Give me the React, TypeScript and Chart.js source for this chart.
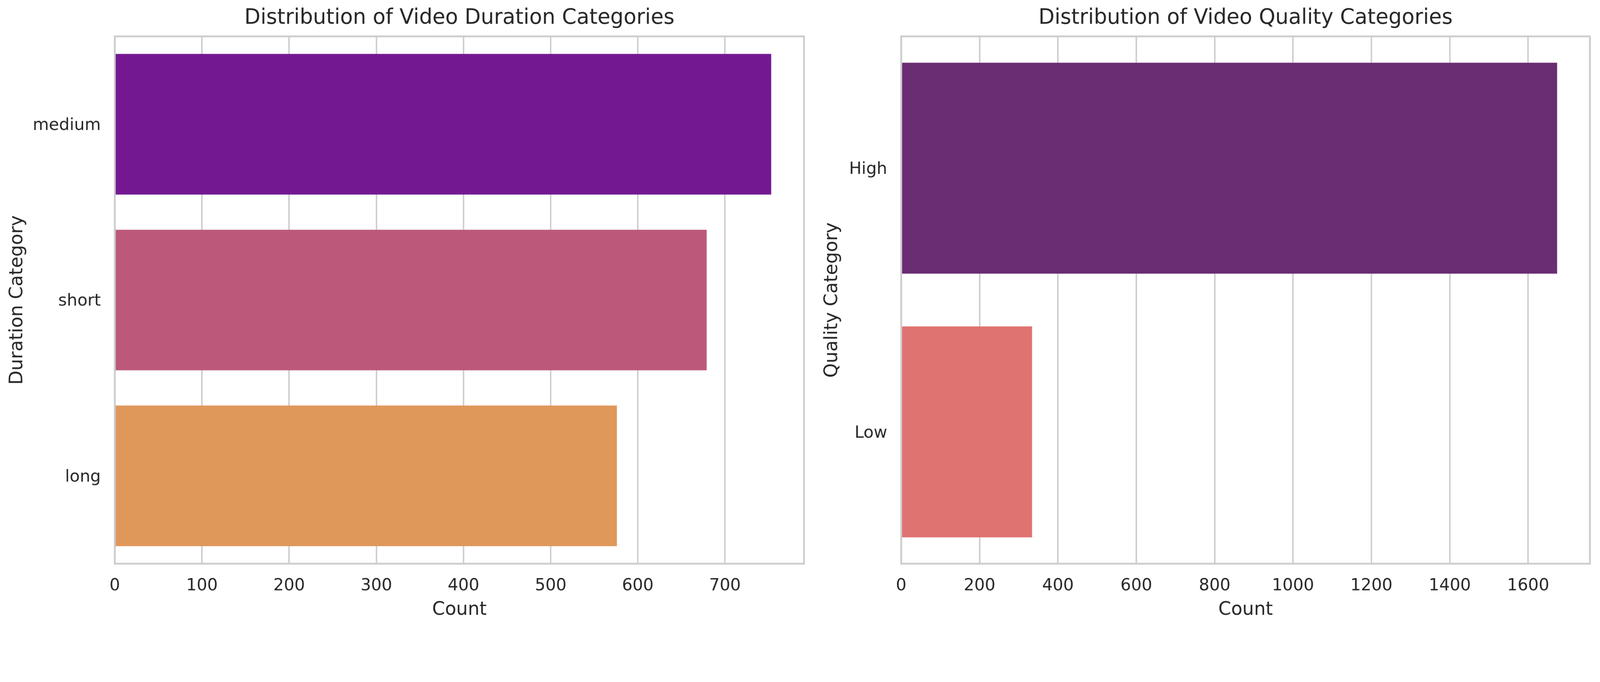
import React, { useEffect, useRef } from "react";
import { Chart, registerables } from "chart.js";

Chart.register(...registerables);

const durationCategories = ["medium", "short", "long"];
const durationCounts = [753, 679, 576];
const durationColors = ["rgb(116,24,145)", "rgb(188,89,122)", "rgb(224,151,90)"];
const durationTicks = [0, 100, 200, 300, 400, 500, 600, 700];

const qualityCategories = ["High", "Low"];
const qualityCounts = [1674, 334];
const qualityColors = ["rgb(106,44,115)", "rgb(223,115,114)"];
const qualityTicks = [0, 200, 400, 600, 800, 1000, 1200, 1400, 1600];

const FONT = "'DejaVu Sans', 'Liberation Sans', sans-serif";
const TEXT = "#262626";
const GRID = "#cccccc";
const W = 4445;
const H = 1746;

const framePlugin = {
  id: "frame",
  afterDatasetsDraw(chart: any) {
    const { ctx, chartArea } = chart;
    ctx.save();
    ctx.strokeStyle = GRID;
    ctx.lineWidth = 5;
    ctx.strokeRect(
      chartArea.left,
      chartArea.top,
      chartArea.right - chartArea.left,
      chartArea.bottom - chartArea.top
    );
    ctx.restore();
  },
};

type PanelProps = {
  left: number;
  width: number;
  scale: number;
  title: string;
  yTitle: string;
  categories: string[];
  counts: number[];
  colors: string[];
  tickValues: number[];
  yAxisWidth: number;
  rightPad: number;
  yTitlePad: number;
};

function Panel(p: PanelProps) {
  const ref = useRef<HTMLCanvasElement | null>(null);
  useEffect(() => {
    if (!ref.current) return;
    const max = Math.max(...p.counts) * 1.05;
    const chart = new Chart(ref.current, {
      type: "bar",
      data: {
        labels: p.categories,
        datasets: [
          {
            data: p.counts,
            backgroundColor: p.colors,
            borderWidth: 0,
            categoryPercentage: 0.8,
            barPercentage: 1.0,
          },
        ],
      },
      plugins: [framePlugin],
      options: {
        indexAxis: "y",
        animation: false,
        responsive: false,
        devicePixelRatio: 1,
        layout: { padding: { left: 0, right: p.rightPad, top: 0, bottom: 0 } },
        plugins: {
          legend: { display: false },
          tooltip: { enabled: false },
          title: {
            display: true,
            text: p.title,
            fullSize: false,
            color: TEXT,
            font: { family: FONT, size: 58, weight: "normal" },
            padding: { top: 16, bottom: 15.4 },
          },
        },
        scales: {
          x: {
            type: "linear",
            min: 0,
            max: max,
            afterBuildTicks: (scale: any) => {
              scale.ticks = p.tickValues.map((v) => ({ value: v }));
            },
            afterFit: (scale: any) => {
              scale.height = 180;
            },
            ticks: {
              color: TEXT,
              padding: 34,
              maxRotation: 0,
              autoSkip: false,
              font: { family: FONT, size: 46 },
              callback: (v: any) => String(v),
            },
            grid: { color: GRID, lineWidth: 4, drawTicks: false },
            border: { display: false },
            title: {
              display: true,
              text: "Count",
              color: TEXT,
              font: { family: FONT, size: 51 },
              padding: { top: 0, bottom: 21 },
            },
          },
          y: {
            type: "category",
            afterFit: (scale: any) => {
              scale.width = p.yAxisWidth;
            },
            ticks: {
              color: TEXT,
              padding: 39,
              labelOffset: 4,
              font: { family: FONT, size: 46 },
            },
            grid: { display: false, drawTicks: false },
            border: { display: false },
            title: {
              display: true,
              text: p.yTitle,
              color: TEXT,
              font: { family: FONT, size: 51 },
              padding: { top: p.yTitlePad, bottom: 0 },
            },
          },
        },
      } as any,
    });
    return () => chart.destroy();
  }, []);
  return (
    <canvas
      ref={ref}
      width={p.width}
      height={H}
      style={{
        position: "absolute",
        left: p.left * p.scale,
        top: 0,
        width: p.width * p.scale,
        height: H * p.scale,
      }}
    />
  );
}

export default function App() {
  const s =
    typeof window !== "undefined"
      ? Math.min(window.innerWidth / W, window.innerHeight / H)
      : 1;
  return (
    <div
      style={{
        position: "absolute",
        left: 0,
        top: 0,
        width: W * s,
        height: H * s,
        background: "#ffffff",
        overflow: "hidden",
      }}
    >
      <Panel
        left={0}
        width={2250}
        scale={s}
        title="Distribution of Video Duration Categories"
        yTitle="Duration Category"
        categories={durationCategories}
        counts={durationCounts}
        colors={durationColors}
        tickValues={durationTicks}
        yAxisWidth={319}
        rightPad={16}
        yTitlePad={18}
      />
      <Panel
        left={2250}
        width={2195}
        scale={s}
        title="Distribution of Video Quality Categories"
        yTitle="Quality Category"
        categories={qualityCategories}
        counts={qualityCounts}
        colors={qualityColors}
        tickValues={qualityTicks}
        yAxisWidth={254}
        rightPad={28}
        yTitlePad={32}
      />
    </div>
  );
}
